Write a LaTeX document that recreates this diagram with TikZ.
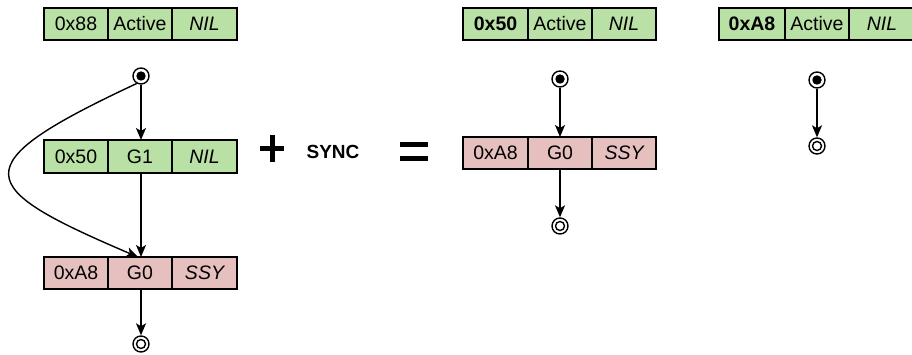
\documentclass[tikz,border=0pt]{standalone}
\usepackage{fontspec}
\setmainfont{Liberation Sans}
\usetikzlibrary{arrows.meta}
\definecolor{gfill}{HTML}{B9E0A5}
\definecolor{rfill}{HTML}{E6BFBF}
\tikzset{
  cell/.style={draw=black, line width=1.3pt, minimum height=32pt, inner sep=0pt, outer sep=0pt,
    font=\fontsize{19.5}{21}\selectfont},
  gcell/.style={cell, fill=gfill},
  rcell/.style={cell, fill=rfill},
  arr/.style={line width=1.4pt, -{Stealth[length=12pt,width=10pt,inset=3pt]}},
  startc/.style={circle, draw=black, fill=white, line width=1.4pt, minimum size=16pt, inner sep=0pt},
  endc/.style={circle, draw=black, fill=white, line width=1.4pt, minimum size=16pt, inner sep=0pt},
  opbar/.style={line width=5pt},
}
\begin{document}
\begin{tikzpicture}[x=1pt,y=-1pt]
\useasboundingbox (0,0) rectangle (912,355);
\begin{scope}
\clip (0,0) rectangle (912,355);
% ---------- left group ----------
\node[gcell, minimum width=64pt] (a1) at (76,24) {0x88};
\node[gcell, minimum width=64pt] (a2) at (140,24) {Active};
\node[gcell, minimum width=65pt] (a3) at (204.5,24) {\itshape NIL};
\node[startc] (s1) at (141,76) {};
\fill (s1.center) circle (4.7);
\node[gcell, minimum width=64pt, minimum height=33pt] (b1) at (76,156.5) {0x50};
\node[gcell, minimum width=64pt, minimum height=33pt] (b2) at (140,156.5) {G1};
\node[gcell, minimum width=65pt, minimum height=33pt] (b3) at (204.5,156.5) {\itshape NIL};
\node[rcell, minimum width=64pt] (c1) at (76,273) {0xA8};
\node[rcell, minimum width=64pt] (c2) at (140,273) {G0};
\node[rcell, minimum width=65pt] (c3) at (204.5,273) {\itshape SSY};
\node[endc] (e1) at (141,344) {};
\draw[line width=1.4pt] (e1.center) circle (4.5);
\draw[arr] (s1) -- (s1 |- b2.north);
\draw[arr] (s1 |- b2.south) -- (s1 |- c2.north);
\draw[arr] (s1 |- c2.south) -- (e1);
\draw[arr] (s1.240) .. controls (-40,166) and (-26,187) .. ([xshift=-3pt]s1 |- c2.north);
% ---------- operators ----------
\draw[opbar] (260,149) -- (284,149);
\draw[opbar] (272,135.5) -- (272,162.5);
\node[font=\fontsize{19}{21}\selectfont\bfseries] (sync) at (333,152) {SYNC};
\draw[opbar] (400,144.5) -- (428,144.5);
\draw[opbar] (400,158.5) -- (428,158.5);
% ---------- middle group ----------
\node[gcell, minimum width=65pt] (m1) at (495.5,24) {\bfseries 0x50};
\node[gcell, minimum width=64pt] (m2) at (560,24) {Active};
\node[gcell, minimum width=64pt] (m3) at (624,24) {\itshape NIL};
\node[startc] (s2) at (560,79) {};
\fill (s2.center) circle (4.7);
\node[rcell, minimum width=65pt] (n1) at (495.5,153) {0xA8};
\node[rcell, minimum width=64pt] (n2) at (560,153) {G0};
\node[rcell, minimum width=64pt] (n3) at (624,153) {\itshape SSY};
\node[endc] (e2) at (560,226) {};
\draw[line width=1.4pt] (e2.center) circle (4.5);
\draw[arr] (s2) -- (n2);
\draw[arr] (n2) -- (e2);
% ---------- right group ----------
\node[gcell, minimum width=66pt] (r1) at (752,24) {\bfseries 0xA8};
\node[gcell, minimum width=64pt] (r2) at (817,24) {Active};
\node[gcell, minimum width=66pt] (r3) at (882,24) {\itshape NIL};
\node[startc] (s3) at (817,80) {};
\fill (s3.center) circle (4.7);
\node[endc] (e3) at (817,146) {};
\draw[line width=1.4pt] (e3.center) circle (4.5);
\draw[arr] (s3) -- (e3);
\end{scope}
\end{tikzpicture}
\end{document}
